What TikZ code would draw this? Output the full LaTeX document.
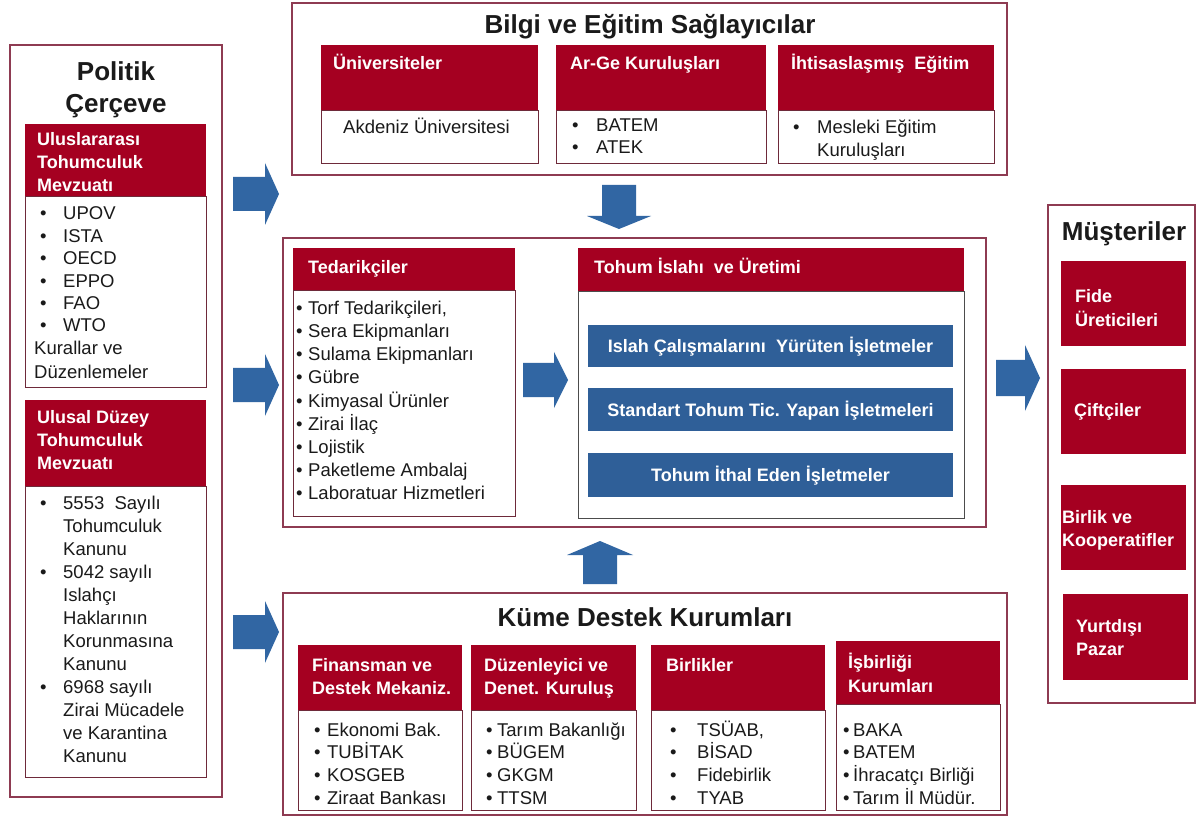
\documentclass[tikz,border=0pt]{standalone}
\usepackage{fontspec}
\setmainfont{Liberation Sans}
\definecolor{cred}{HTML}{A50021}
\definecolor{cblue}{HTML}{2F5F98}
\definecolor{ablue}{HTML}{3166A3}
\definecolor{frame}{HTML}{8E3B52}
\definecolor{ibord}{HTML}{6E2A3A}
\definecolor{ink}{HTML}{1A1A1A}
\newcommand\bx[6]{\node[#2, minimum width={(#5)-(#3)}, minimum height={(#6)-(#4)}] (#1) at ({((#3)+(#5))/2},{((#4)+(#6))/2}) {};}
\newcommand\tl[6]{\foreach \t [count=\i from 0] in {#6} {\node[#2] (#1\i) at (#3,{#4+#5*\i}) {\t};}}
\newcommand\bu[1]{\makebox[#1pt][l]{\textbullet}}
\newcommand\ii[1]{\makebox[#1pt]{}}
\begin{document}
\begin{tikzpicture}[x=1pt,y=-1pt,
  outer/.style={draw=frame, line width=1.2pt, fill=white, inner sep=0pt},
  body/.style={draw=ibord, line width=0.9pt, fill=white, inner sep=0pt},
  bodyg/.style={draw=black!70, line width=0.9pt, fill=white, inner sep=0pt},
  hdr/.style={fill=cred, draw=none, inner sep=0pt},
  bar/.style={fill=cblue, draw=none, inner sep=0pt},
  txt/.style={font=\fontsize{18.5}{22}\selectfont, text=ink, inner sep=0pt, anchor=base west},
  htxt/.style={font=\bfseries\fontsize{18}{22}\selectfont, text=white, inner sep=0pt, anchor=base west},
  ttl/.style={font=\bfseries\fontsize{26}{30}\selectfont, text=ink, inner sep=0pt, anchor=base},
  bartxt/.style={font=\bfseries\fontsize{18}{22}\selectfont, text=white, inner sep=0pt, anchor=base},
  pics/barrow/.style n args={4}{code={\fill[ablue] (-#1,-#3) -- (-#2,-#3) -- (-#2,-#4) -- (0,0) -- (-#2,#4) -- (-#2,#3) -- (-#1,#3) -- cycle;}}
]
\path[use as bounding box, fill=white] (0,0) rectangle (1200,818);

% ---------------- Politik Cerceve
\bx{pol}{outer}{10}{45}{222}{797}
\node[ttl] (polt1) at (116,81) {Politik};
\node[ttl] (polt2) at (116,113) {Çerçeve};
\bx{pib}{body}{25}{196}{206}{387}
\bx{pih}{hdr}{25}{124}{206}{196}
\tl{pihx}{htxt}{37}{146}{23}{Uluslararası,Tohumculuk,Mevzuatı}
\tl{pibx}{txt}{40}{220}{22.4}{\bu{23}UPOV,\bu{23}ISTA,\bu{23}OECD,\bu{23}EPPO,\bu{23}FAO,\bu{23}WTO}
\node[txt] (kur1) at (34,355) {Kurallar ve};
\node[txt] (kur2) at (34,378) {Düzenlemeler};
\bx{pub}{body}{25}{486}{206}{777}
\bx{puh}{hdr}{25}{400}{206}{486}
\tl{puhx}{htxt}{37}{423}{23}{Ulusal Düzey,Tohumculuk,Mevzuatı}
\tl{pubx}{txt}{40}{509}{23}{\bu{23}5553\ \ Sayılı,\ii{23}Tohumculuk,\ii{23}Kanunu,\bu{23}5042 sayılı,\ii{23}Islahçı,\ii{23}Haklarının,\ii{23}Korunmasına,\ii{23}Kanunu,\bu{23}6968 sayılı,\ii{23}Zirai Mücadele,\ii{23}ve Karantina,\ii{23}Kanunu}

% ---------------- Bilgi ve Egitim
\bx{bil}{outer}{292}{3}{1007}{175}
\node[ttl] (bilt) at (650,34) {Bilgi ve Eğitim\ Sağlayıcılar};
\bx{unib}{body}{321}{110}{538}{163}
\bx{unih}{hdr}{321}{45}{538}{110}
\bx{argb}{body}{556}{110}{766}{163}
\bx{argh}{hdr}{556}{45}{766}{110}
\bx{ihtb}{body}{778}{110}{994}{163}
\bx{ihth}{hdr}{778}{45}{994}{110}
\node[htxt] (unit) at (333,70) {Üniversiteler};
\node[htxt] (argt) at (570,70) {Ar-Ge Kuruluşları};
\node[htxt] (ihtt) at (791,70) {İhtisaslaşmış\ \ Eğitim};
\node[txt] (unix) at (343,134) {Akdeniz Üniversitesi};
\tl{argx}{txt}{572}{132}{22}{\bu{24}BATEM,\bu{24}ATEK}
\tl{ihtx}{txt}{793}{134}{23}{\bu{24}Mesleki Eğitim,\ii{24}Kuruluşları}

% ---------------- Middle
\bx{mid}{outer}{283}{238}{986}{527}
\bx{tedb}{body}{293}{290}{515}{516}
\bx{tedh}{hdr}{293}{248}{515}{290}
\node[htxt] (tedt) at (308,274) {Tedarikçiler};
\tl{tedx}{txt}{296}{315}{23}{\bu{12}{Torf Tedarikçileri,},\bu{12}Sera Ekipmanları,\bu{12}Sulama Ekipmanları,\bu{12}Gübre,\bu{12}Kimyasal Ürünler,\bu{12}Zirai İlaç,\bu{12}Lojistik,\bu{12}Paketleme Ambalaj,\bu{12}Laboratuar Hizmetleri}
\bx{tohb}{bodyg}{578}{291}{964}{518}
\bx{tohh}{hdr}{578}{248}{964}{291}
\node[htxt] (toht) at (594,274) {Tohum İslahı\ \ ve Üretimi};
\bx{bar1}{bar}{588}{325}{953}{367}
\bx{bar2}{bar}{588}{388}{953}{431}
\bx{bar3}{bar}{588}{453}{953}{497}
\node[bartxt] (bar1t) at ([yshift=-6.5pt]bar1.center) {Islah Çalışmalarını\ \ Yürüten İşletmeler};
\node[bartxt] (bar2t) at ([yshift=-6.5pt]bar2.center) {Standart Tohum\ Tic. Yapan\ İşletmeleri};
\node[bartxt] (bar3t) at ([yshift=-6.5pt]bar3.center) {Tohum İthal Eden İşletmeler};

% ---------------- Kume Destek
\bx{kum}{outer}{283}{593}{1007}{815}
\node[ttl] (kumt) at (645,626) {Küme Destek Kurumları};
\bx{finb}{body}{298}{710}{462}{810}
\bx{finh}{hdr}{298}{645}{462}{710}
\bx{duzb}{body}{471}{710}{636}{810}
\bx{duzh}{hdr}{471}{645}{636}{710}
\bx{birb}{body}{651}{710}{825}{810}
\bx{birh}{hdr}{651}{645}{825}{710}
\bx{isbb}{body}{836}{704}{1000}{810}
\bx{isbh}{hdr}{836}{641}{1000}{704}
\tl{finht}{htxt}{312}{671}{23}{Finansman ve,Destek Mekaniz.}
\tl{duzht}{htxt}{484}{671}{23}{Düzenleyici ve,Denet. Kuruluş}
\node[htxt] (birht) at (666,671) {Birlikler};
\tl{isbht}{htxt}{848}{668}{24}{İşbirliği,Kurumları}
\tl{finx}{txt}{314}{736}{22.7}{\bu{13}Ekonomi Bak.,\bu{13}TUBİTAK,\bu{13}KOSGEB,\bu{13}Ziraat Bankası}
\tl{duzx}{txt}{486}{736}{22.7}{\bu{11}Tarım Bakanlığı,\bu{11}BÜGEM,\bu{11}GKGM,\bu{11}TTSM}
\tl{birx}{txt}{670}{736}{22.7}{\bu{27}{TSÜAB,},\bu{27}BİSAD,\bu{27}Fidebirlik,\bu{27}TYAB}
\tl{isbx}{txt}{843}{736}{22.7}{\bu{10}BAKA,\bu{10}BATEM,\bu{10}İhracatçı Birliği,\bu{10}Tarım İl Müdür.}

% ---------------- Musteriler
\bx{mus}{outer}{1048}{205}{1195}{703}
\node[ttl] (must) at (1124,241) {Müşteriler};
\bx{m1}{hdr}{1061}{261}{1186}{346}
\bx{m2}{hdr}{1061}{369}{1186}{454}
\bx{m3}{hdr}{1061}{485}{1186}{570}
\bx{m4}{hdr}{1063}{594}{1188}{680}
\tl{m1x}{htxt}{1075}{303}{24}{Fide,Üreticileri}
\node[htxt] (m2x) at (1074,417) {Çiftçiler};
\tl{m3x}{htxt}{1062}{523}{23}{Birlik ve,Kooperatifler}
\tl{m4x}{htxt}{1076}{632}{23}{Yurtdışı,Pazar}

% ---------------- Block arrows
\pic (a1) at (279,194) {barrow={46}{14}{17}{31}};
\pic (a2) at (279,385) {barrow={46}{14}{17}{31}};
\pic (a3) at (279,632) {barrow={46}{14}{17}{31}};
\pic (a4) at (568,380) {barrow={45}{14}{17}{28}};
\pic (a5) at (1040,378) {barrow={44}{15}{18}{33}};
\pic[rotate=-90] (a6) at (619,229) {barrow={44}{13}{17}{32}};
\pic[rotate=90] (a7) at (600,541) {barrow={43}{14}{17}{33}};
\end{tikzpicture}
\end{document}
